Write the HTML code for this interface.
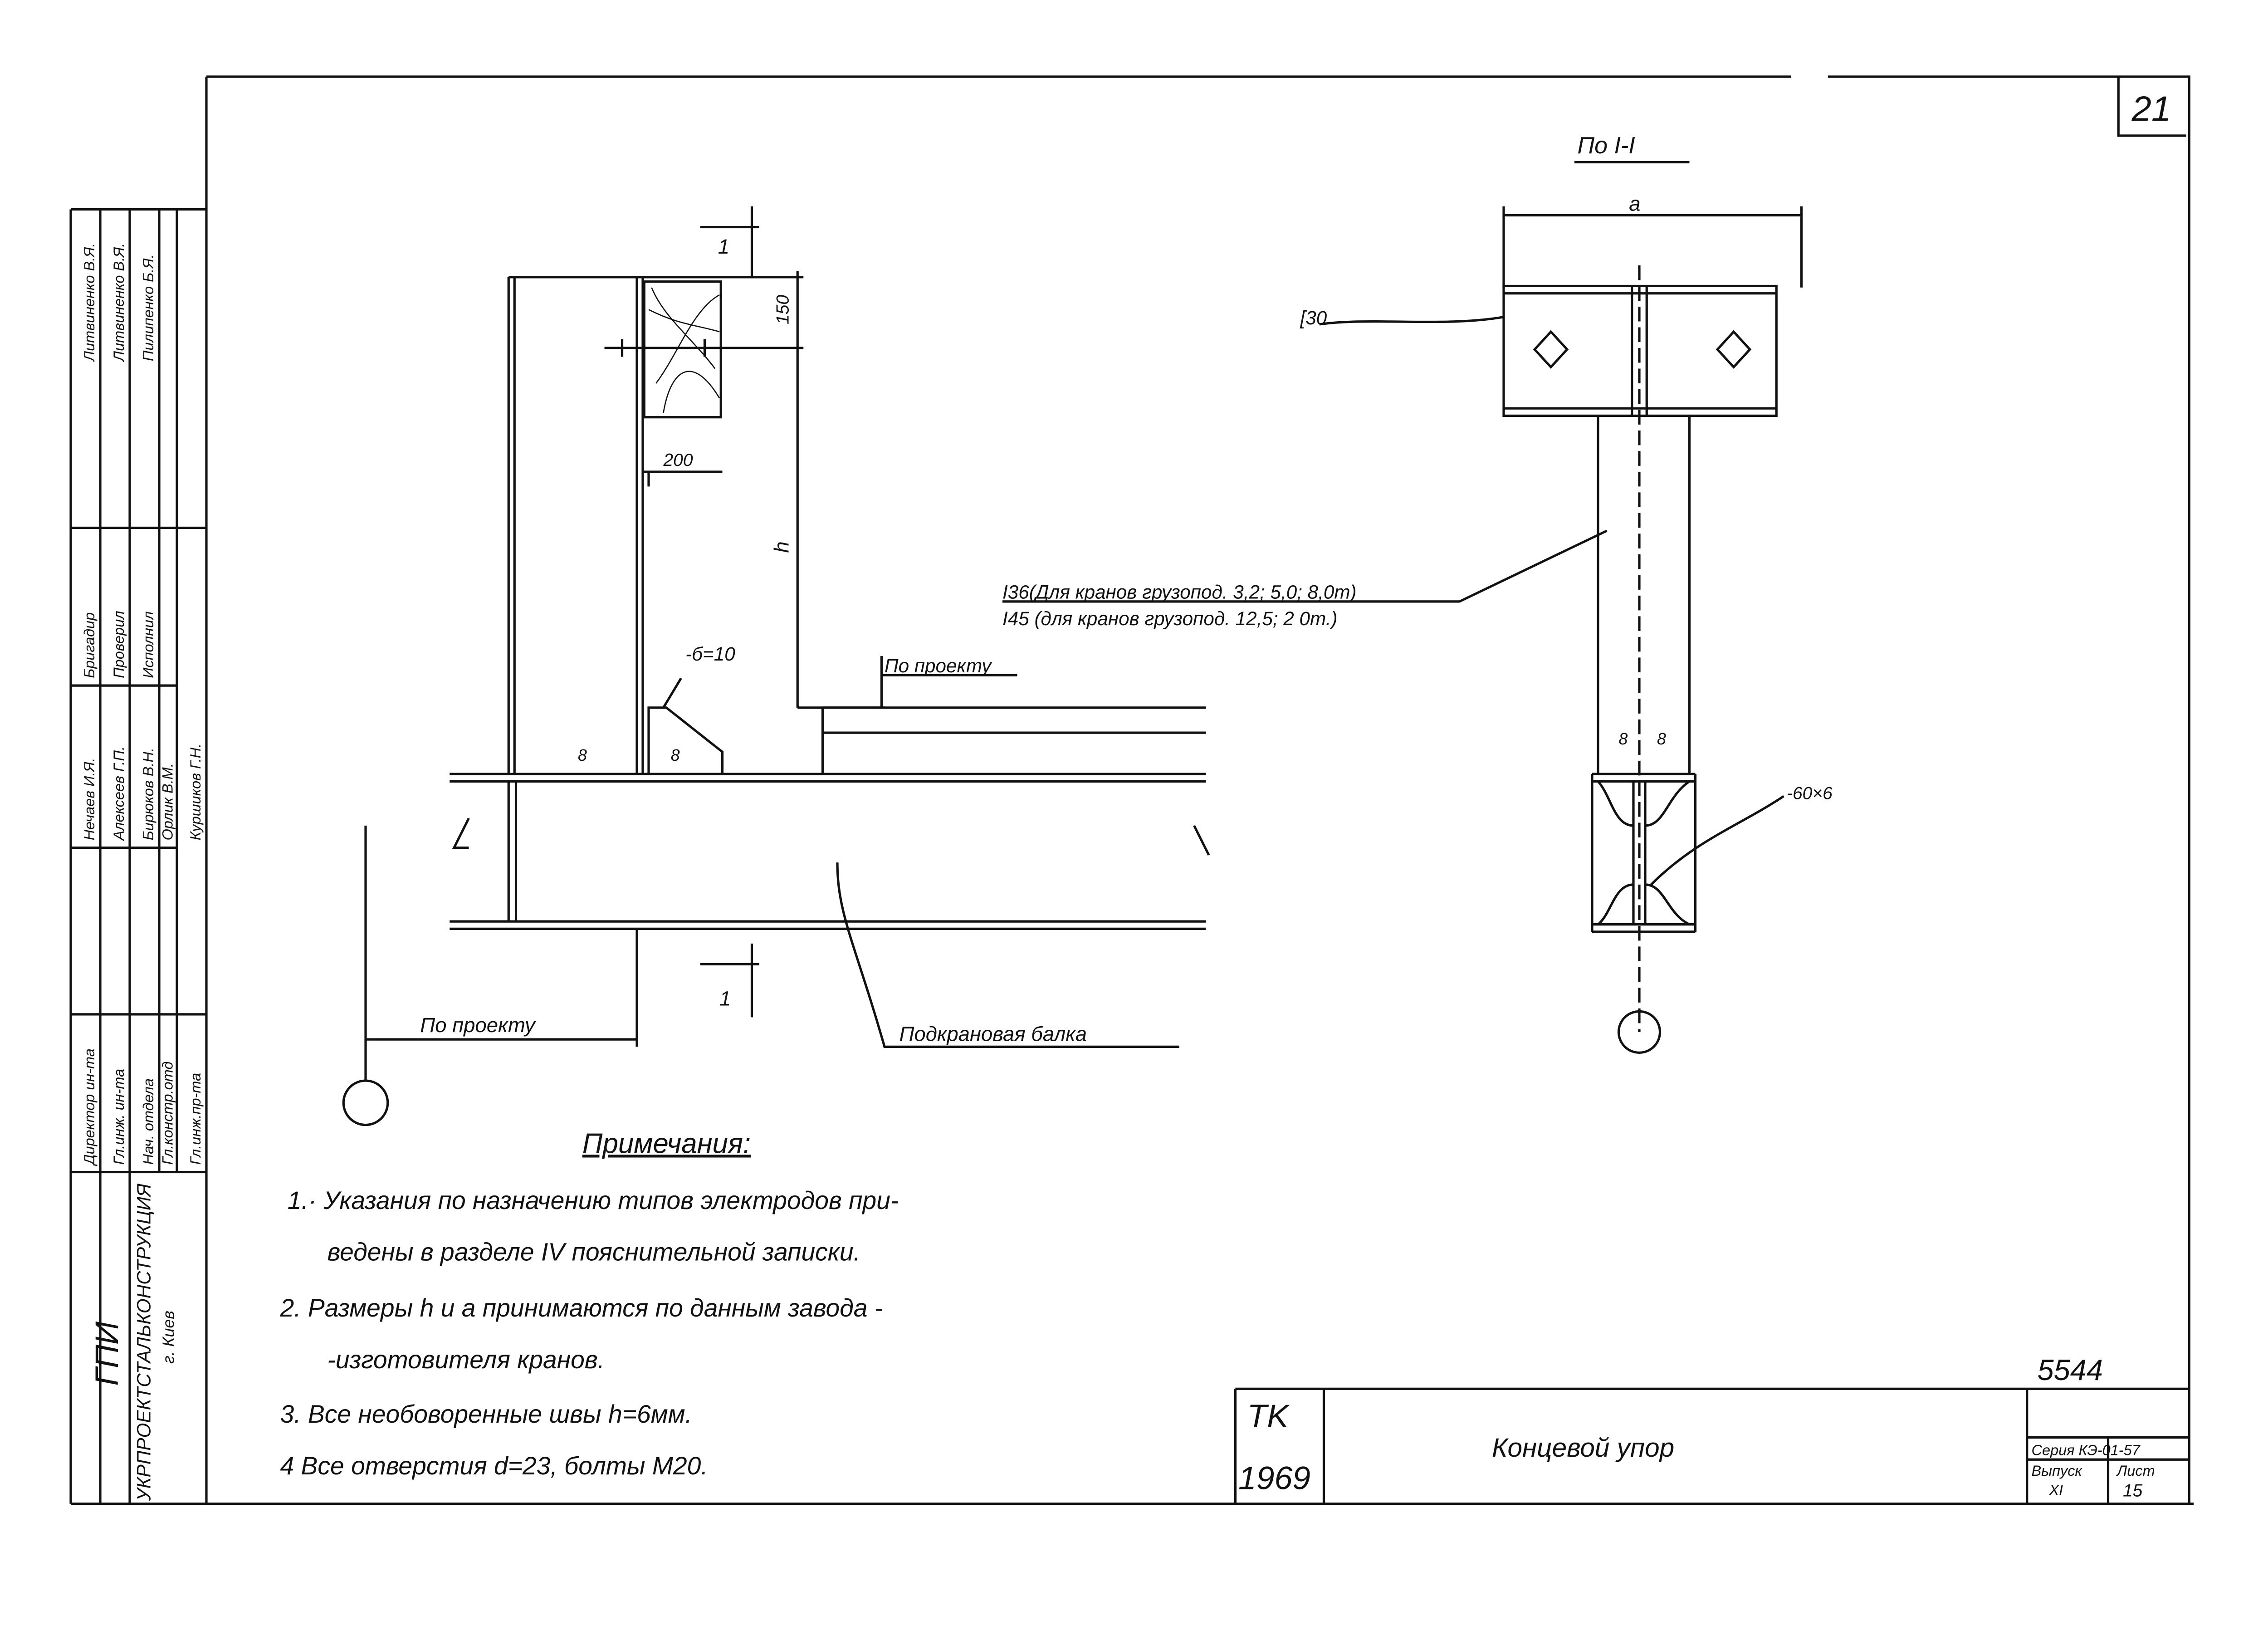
<!DOCTYPE html>
<html><head><meta charset="utf-8"><style>
html,body{margin:0;padding:0;background:#fff}
svg{display:block}
text{font-family:"Liberation Sans",sans-serif;font-style:italic;fill:#111}
</style></head><body>
<svg width="5031" height="3604" viewBox="0 0 1548 1109" preserveAspectRatio="none" xmlns="http://www.w3.org/2000/svg">
<g stroke="#111" fill="none" stroke-width="1.6">
<path d="M140 52H1215M1240 52H1485V1020M48 1020H1488M140 52V1020"/>
<path d="M1437 52V92H1483"/>
<path d="M48 142H140M48 142V1020M68 142V1020M88 142V1020M108 142V795M120 142V795M48 795H140M48 250V795M48 358H140M48 465H120M48 575H120M48 688H140"/>
<path d="M838 942V1020M838 942H1485M898 942V1020M1375 942V1020M1375 975H1485M1375 990H1485M1430 975V1020"/>
<path d="M345 188V525M349 188V525M432 188V525M436 188V525M345 188H490"/>
<rect x="437" y="191" width="52" height="92"/>
<path d="M442 195C450 215 470 230 485 250M445 260C460 240 470 210 488 200M450 280C455 250 470 240 488 270M440 210C460 220 470 220 488 225" stroke-width="0.8"/>
<path d="M410 236H490M422 230V242M478 230V242"/>
<path d="M475 154H515M510 140V188M490 188H545M490 236H545M541 184V480M436 320H490M440 320V330"/>
<text x="450" y="316" font-size="12" stroke="none">200</text>
<text x="535" y="220" font-size="12" stroke="none" transform="rotate(-90 535 220)">150</text>
<text x="535" y="375" font-size="14" stroke="none" transform="rotate(-90 535 375)">h</text>
<path d="M541 480H600M598 445V480M598 458H690"/>
<text x="600" y="456" font-size="13" stroke="none">По проекту</text>
<path d="M440 480H452L490 510V525H440Z"/>
<path d="M462 460L450 480"/>
<text x="465" y="448" font-size="13" stroke="none">-б=10</text>
<text x="392" y="516" font-size="11" stroke="none">8</text>
<text x="455" y="516" font-size="11" stroke="none">8</text>
<path d="M305 525H818M305 530H818M305 625H818M305 630H818M345 530V625M350 530V625"/>
<path d="M558 480H818M558 480V525M558 497H818"/>
<path d="M318 555L308 575L318 575M810 560L820 580"/>
<path d="M475 654H515M510 640V690"/>
<text x="488" y="682" font-size="14" stroke="none">1</text>
<text x="487" y="172" font-size="14" stroke="none">1</text>
<path d="M568 585C568 620 580 640 600 710H800"/>
<text x="610" y="706" font-size="14" stroke="none">Подкрановая балка</text>
<path d="M248 705H432M432 630V710M248 560V733"/>
<circle cx="248" cy="748" r="15"/>
<text x="285" y="700" font-size="14" stroke="none">По проекту</text>
<text x="1070" y="104" font-size="16" stroke="none">По I-I</text>
<path d="M1068 110H1146M1020 146H1222M1020 140V195M1222 140V195"/>
<text x="1105" y="143" font-size="14" stroke="none">a</text>
<rect x="1020" y="194" width="185" height="88"/>
<path d="M1020 199H1205M1020 277H1205M1107 194V282M1117 194V282"/>
<path d="M1052 225L1063 237L1052 249L1041 237Z M1176 225L1187 237L1176 249L1165 237Z"/>
<path d="M1112 180V700" stroke-dasharray="10 4"/>
<path d="M1084 282V525M1146 282V525"/>
<path d="M1080 525H1150M1080 530H1150M1080 632H1150M1080 627H1150M1080 525V632M1150 525V632M1108 530V627M1116 530V627M1108 560C1095 560 1093 540 1084 530M1116 560C1129 560 1131 540 1146 530M1108 600C1095 600 1093 620 1084 627M1116 600C1129 600 1131 620 1146 627"/>
<circle cx="1112" cy="700" r="14"/>
<path d="M895 220C930 215 980 222 1020 215"/>
<text x="882" y="220" font-size="13" stroke="none">[30</text>
<path d="M680 408H990L1090 360"/>
<text x="680" y="406" font-size="13" stroke="none">I36(Для кранов грузопод. 3,2; 5,0; 8,0т)</text>
<text x="680" y="424" font-size="13" stroke="none">I45 (для кранов грузопод. 12,5; 2 0т.)</text>
<path d="M1210 540C1180 560 1150 570 1120 600"/>
<text x="1212" y="542" font-size="12" stroke="none">-60×6</text>
<text x="1098" y="505" font-size="11" stroke="none">8</text>
<text x="1124" y="505" font-size="11" stroke="none">8</text>
</g>
<text x="1446" y="82" font-size="24">21</text>
<text x="1382" y="936" font-size="20">5544</text>
<text x="846" y="968" font-size="22" font-style="normal">TK</text>
<text x="840" y="1010" font-size="22" font-style="normal">1969</text>
<text x="1012" y="988" font-size="18">Концевой упор</text>
<text x="1378" y="987" font-size="10">Серия КЭ-01-57</text>
<text x="1378" y="1001" font-size="10">Выпуск</text>
<text x="1390" y="1014" font-size="10">XI</text>
<text x="1436" y="1001" font-size="10">Лист</text>
<text x="1440" y="1015" font-size="12">15</text>
<text x="395" y="782" font-size="19" text-decoration="underline">Примечания:</text>
<g font-size="17">
<text x="195" y="820">1.· Указания  по назначению  типов  электродов  при-</text>
<text x="222" y="855">ведены в разделе IV пояснительной  записки.</text>
<text x="190" y="893">2.  Размеры h и а  принимаются  по данным  завода -</text>
<text x="222" y="928">-изготовителя  кранов.</text>
<text x="190" y="965">3.   Все  необоворенные  швы h=6мм.</text>
<text x="190" y="1000">4    Все отверстия  d=23,  болты  М20.</text>
</g>
<g font-style="normal" font-size="22">
<text transform="translate(80 940) rotate(-90)">ГПИ</text>
</g>
<g font-size="14" font-style="normal">
<text transform="translate(102 1018) rotate(-90)" font-size="13">УКРПРОЕКТСТАЛЬКОНСТРУКЦИЯ</text>
<text transform="translate(118 925) rotate(-90)" font-size="11">г. Киев</text>
</g>
<g font-size="10">
<text transform="translate(64 790) rotate(-90)">Директор ин-та</text>
<text transform="translate(84 790) rotate(-90)">Гл.инж. ин-та</text>
<text transform="translate(104 790) rotate(-90)">Нач. отдела</text>
<text transform="translate(117 790) rotate(-90)">Гл.констр.отд</text>
<text transform="translate(136 790) rotate(-90)">Гл.инж.пр-та</text>
<text transform="translate(64 570) rotate(-90)">Нечаев И.Я.</text>
<text transform="translate(84 570) rotate(-90)">Алексеев Г.П.</text>
<text transform="translate(104 570) rotate(-90)">Бирюков В.Н.</text>
<text transform="translate(117 570) rotate(-90)">Орлик В.М.</text>
<text transform="translate(136 570) rotate(-90)">Куршиков Г.Н.</text>
<text transform="translate(64 460) rotate(-90)">Бригадир</text>
<text transform="translate(84 460) rotate(-90)">Проверил</text>
<text transform="translate(104 460) rotate(-90)">Исполнил</text>
<text transform="translate(64 245) rotate(-90)">Литвиненко В.Я.</text>
<text transform="translate(84 245) rotate(-90)">Литвиненко В.Я.</text>
<text transform="translate(104 245) rotate(-90)">Пилипенко Б.Я.</text>
</g>
</svg>
</body></html>
